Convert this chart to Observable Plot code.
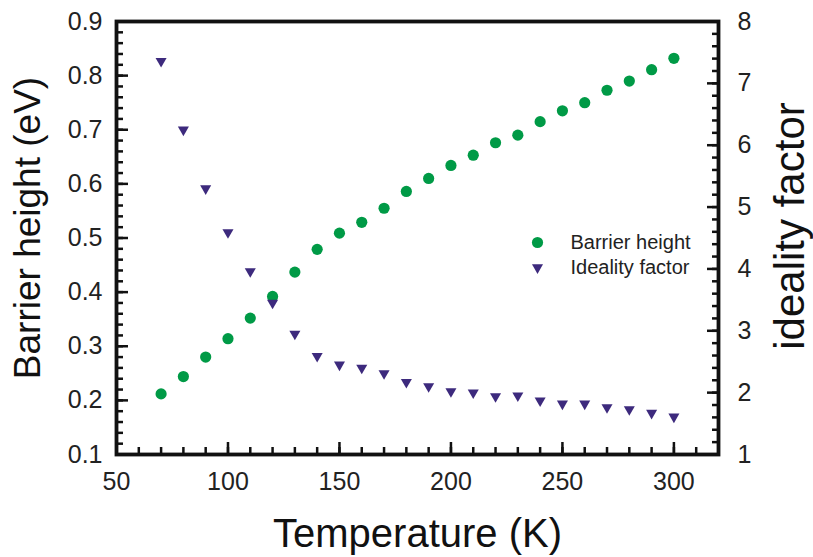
<!DOCTYPE html>
<html>
<head>
<meta charset="utf-8">
<script src="https://cdn.jsdelivr.net/npm/d3@7"></script>
<script src="https://cdn.jsdelivr.net/npm/@observablehq/plot@0.6"></script>
<style>
  html, body { margin: 0; padding: 0; background: #fff; }
  #chart { width: 813px; height: 557px; }
</style>
</head>
<body>
<div id="chart"></div>
<script>
// ---- data ----
const temperature = [70, 80, 90, 100, 110, 120, 130, 140, 150, 160, 170, 180,
                     190, 200, 210, 220, 230, 240, 250, 260, 270, 280, 290, 300];
const barrierHeight = [0.212, 0.244, 0.280, 0.314, 0.352, 0.392, 0.437, 0.479, 0.509, 0.529, 0.555, 0.586,
                       0.610, 0.634, 0.653, 0.676, 0.690, 0.715, 0.735, 0.750, 0.773, 0.790, 0.811, 0.832];
const idealityFactor = [7.36, 6.25, 5.30, 4.59, 3.96, 3.45, 2.95, 2.59, 2.45, 2.40, 2.31, 2.17,
                        2.10, 2.02, 2.00, 1.94, 1.95, 1.87, 1.82, 1.82, 1.76, 1.73, 1.67, 1.61];

const xMajorTicks = [50, 100, 150, 200, 250, 300];
const xMinorTicks = d3.range(50, 320, 10);
const yLeftMajorTicks = [0.1, 0.2, 0.3, 0.4, 0.5, 0.6, 0.7, 0.8, 0.9];
const yLeftMinorTicks = d3.range(0.1, 0.9001, 0.02);
const yRightMajorTicks = [1, 2, 3, 4, 5, 6, 7, 8];
const yRightMinorTicks = d3.range(1, 8.001, 0.2);

const seriesNames = ["Barrier height", "Ideality factor"];
const xTitle = "Temperature (K)";
const yLeftTitle = "Barrier height (eV)";
const yRightTitle = "ideality factor";

// ---- styling ----
const green = "#009a46";
const purple = "#3d2a7d";
const font = "'Liberation Sans', Arial, Helvetica, sans-serif";

// right axis (1..8) mapped onto left scale domain (0.1..0.9)
const leftDomain = [0.1, 0.9];
const rightDomain = [1, 8];
const toLeft = n => leftDomain[0] + (n - rightDomain[0]) * (leftDomain[1] - leftDomain[0]) / (rightDomain[1] - rightDomain[0]);
const toRight = v => rightDomain[0] + (v - leftDomain[0]) * (rightDomain[1] - rightDomain[0]) / (leftDomain[1] - leftDomain[0]);

const bh = temperature.map((t, i) => ({T: t, v: barrierHeight[i]}));
const nf = temperature.map((t, i) => ({T: t, v: toLeft(idealityFactor[i])}));

const tickW = 2.5;
const tickFont = 25;

const chart = Plot.plot({
  width: 813,
  height: 557,
  marginLeft: 116,
  marginRight: 95,
  marginTop: 21,
  marginBottom: 103,
  x: {domain: [50, 320]},
  y: {domain: leftDomain},
  style: {fontFamily: font, background: "#fff", color: "#111", overflow: "visible"},
  marks: [
    // x ticks (inward)
    Plot.axisX(xMinorTicks, {anchor: "bottom", tickSize: 7, dy: -7, strokeWidth: tickW, tickFormat: () => "", label: null}),
    Plot.axisX(xMajorTicks, {anchor: "bottom", tickSize: 12, dy: -12, strokeWidth: tickW, tickFormat: () => "", label: null}),
    Plot.axisX(xMajorTicks, {anchor: "bottom", tickSize: 0, tickPadding: 18, fontSize: tickFont, label: null, fill: "#222"}),
    // left y ticks
    Plot.axisY(yLeftMinorTicks, {anchor: "left", tickSize: 7, dx: 7, strokeWidth: tickW, tickFormat: () => "", label: null}),
    Plot.axisY(yLeftMajorTicks, {anchor: "left", tickSize: 12, dx: 12, strokeWidth: tickW, tickFormat: () => "", label: null}),
    Plot.axisY(yLeftMajorTicks, {anchor: "left", tickSize: 0, tickPadding: 14, fontSize: tickFont, label: null, fill: "#222", tickFormat: d3.format(".1f")}),
    // right y ticks
    Plot.axisY(yRightMinorTicks.map(toLeft), {anchor: "right", tickSize: 7, dx: -7, strokeWidth: tickW, tickFormat: () => "", label: null}),
    Plot.axisY(yRightMajorTicks.map(toLeft), {anchor: "right", tickSize: 12, dx: -12, strokeWidth: tickW, tickFormat: () => "", label: null}),
    Plot.axisY(yRightMajorTicks.map(toLeft), {anchor: "right", tickSize: 0, tickPadding: 19, fontSize: tickFont, label: null, fill: "#222", tickFormat: d => String(Math.round(toRight(d)))}),
    // frame
    Plot.frame({stroke: "#111", strokeWidth: 3.8}),
    // data
    Plot.dot(bh, {x: "T", y: "v", r: 5.6, fill: green, stroke: "none", symbol: "circle"}),
    Plot.dot(nf, {x: "T", y: "v", r: 4.1, fill: purple, stroke: "none", symbol: "triangle", rotate: 180}),
    // legend
    Plot.dot([seriesNames[0]], {frameAnchor: "top-left", dx: 421, dy: 221, r: 5.6, fill: green, stroke: "none", symbol: "circle"}),
    Plot.dot([seriesNames[1]], {frameAnchor: "top-left", dx: 421, dy: 246, r: 4.1, fill: purple, stroke: "none", symbol: "triangle", rotate: 180}),
    Plot.text([seriesNames[0]], {frameAnchor: "top-left", dx: 454, dy: 221, text: d => d, textAnchor: "start", lineAnchor: "middle", fontSize: 20, fill: "#222"}),
    Plot.text([seriesNames[1]], {frameAnchor: "top-left", dx: 454, dy: 246, text: d => d, textAnchor: "start", lineAnchor: "middle", fontSize: 20, fill: "#222"}),
    // axis titles
    Plot.text([xTitle], {frameAnchor: "bottom", dy: 80, text: d => d, textAnchor: "middle", lineAnchor: "middle", fontSize: 40, fill: "#111"}),
    Plot.text([yLeftTitle], {frameAnchor: "left", dx: -88, dy: -10, rotate: -90, text: d => d, textAnchor: "middle", lineAnchor: "middle", fontSize: 37, fill: "#111"}),
    Plot.text([yRightTitle], {frameAnchor: "right", dx: 72, dy: -12, rotate: -90, text: d => d, textAnchor: "middle", lineAnchor: "middle", fontSize: 42, fill: "#111"})
  ]
});

document.getElementById("chart").appendChild(chart);
</script>
</body>
</html>
